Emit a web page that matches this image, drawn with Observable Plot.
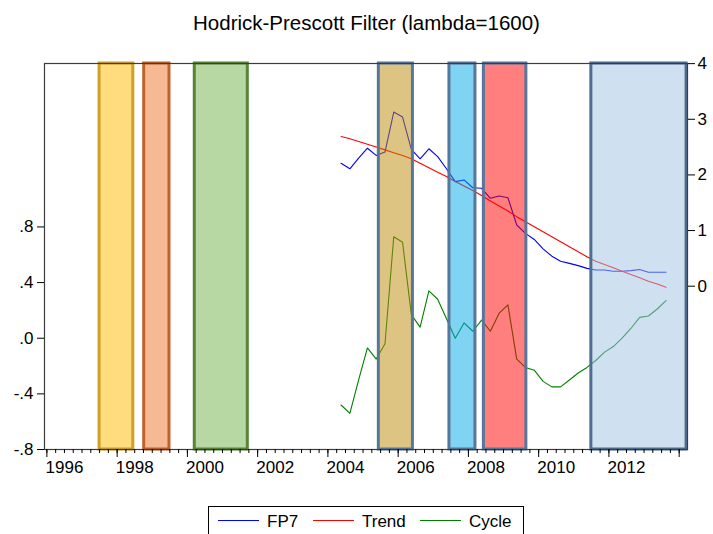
<!DOCTYPE html>
<html>
<head>
<meta charset="utf-8">
<script src="https://cdn.jsdelivr.net/npm/d3@7"></script>
<script src="https://cdn.jsdelivr.net/npm/@observablehq/plot@0.6"></script>
<style>
  body { margin: 0; background: #fff; font-family: "Liberation Sans", Arial, sans-serif; }
  #wrap { position: relative; width: 713px; height: 534px; overflow: hidden; background: #fff; }
  #title { height: 42px; padding-left: 20px; text-align: center; font-size: 20.5px; line-height: 45px; color: #000; }
  #chart svg { display: block; }
  #legend { position: absolute; left: 0; top: 0; }
</style>
</head>
<body>
<div id="wrap">
  <div id="title">Hodrick-Prescott Filter (lambda=1600)</div>
  <div id="chart"></div>
  <svg id="legend" width="713" height="534"></svg>
</div>
<script>
// Quarterly observations
const quarters = [
  "2004Q2","2004Q3","2004Q4",
  "2005Q1","2005Q2","2005Q3","2005Q4",
  "2006Q1","2006Q2","2006Q3","2006Q4",
  "2007Q1","2007Q2","2007Q3","2007Q4",
  "2008Q1","2008Q2","2008Q3","2008Q4",
  "2009Q1","2009Q2","2009Q3","2009Q4",
  "2010Q1","2010Q2","2010Q3","2010Q4",
  "2011Q1","2011Q2","2011Q3","2011Q4",
  "2012Q1","2012Q2","2012Q3","2012Q4",
  "2013Q1","2013Q2","2013Q3"
];

// FP7 and its HP trend (right axis units)
const fp7 = [
  2.21, 2.11, 2.30,
  2.48, 2.35, 2.41, 3.13,
  3.04, 2.46, 2.29, 2.47,
  2.33, 2.11, 1.88, 1.91,
  1.77, 1.76, 1.58, 1.62,
  1.59, 1.10, 0.95, 0.84,
  0.67, 0.54, 0.45, 0.41,
  0.37, 0.32, 0.29, 0.29,
  0.27, 0.27, 0.28, 0.30,
  0.25, 0.25, 0.25
];
const trend = [
  2.69, 2.65, 2.60,
  2.55, 2.50, 2.45, 2.40,
  2.35, 2.29, 2.21, 2.13,
  2.05, 1.97, 1.88, 1.80,
  1.72, 1.63, 1.53, 1.44,
  1.35, 1.25, 1.16, 1.07,
  0.98, 0.89, 0.80, 0.71,
  0.62, 0.53, 0.45, 0.39,
  0.33, 0.27, 0.21, 0.15,
  0.09, 0.04, -0.02
];
// Cycle component (left axis units)
const cycle = [
  -0.48, -0.54, -0.30,
  -0.07, -0.15, -0.04, 0.73,
  0.69, 0.17, 0.08, 0.34,
  0.28, 0.14, 0.00, 0.11,
  0.05, 0.13, 0.05, 0.18,
  0.24, -0.15, -0.21, -0.23,
  -0.31, -0.35, -0.35, -0.30,
  -0.25, -0.21, -0.16, -0.10,
  -0.06, 0.00, 0.07, 0.15,
  0.16, 0.21, 0.27
];

// Shaded periods (decimal years), with fill and border colours
const bandStart = [1997.50, 1998.77, 2000.21, 2005.45, 2007.46, 2008.44, 2011.50];
const bandEnd   = [1998.46, 1999.49, 2001.72, 2006.42, 2008.20, 2009.65, 2014.21];
const bandFill  = ["#FFBB00", "#EB7529", "#6FAF47", "#BD8907", "#00A7E7", "#FF0000", "#9FC1E1"];
const bandEdge  = ["#CFA024", "#BF622B", "#578436", "#56779C", "#56779C", "#56779C", "#4E6D90"];

// Axis ticks
const leftTicks = [-0.8, -0.4, 0, 0.4, 0.8];
const rightTicks = [0, 1, 2, 3, 4];
const labelYears = [1996, 1998, 2000, 2002, 2004, 2006, 2008, 2010, 2012];

// Legend entries
const seriesNames = ["FP7", "Trend", "Cycle"];
const seriesColors = ["#0000FF", "#FF0000", "#008000"];

// Right-axis values expressed in left-axis units
const rightZero = 0.374, rightUnit = 0.4;
const toLeft = v => rightZero + rightUnit * v;

const qTime = q => +q.slice(0, 4) + (+q.slice(5) - 1) / 4 + 0.125;
const rows = quarters.map((q, i) => ({t: qTime(q), fp7: fp7[i], trend: trend[i], cycle: cycle[i]}));
const bands = bandStart.map((s, i) => ({start: s, end: bandEnd[i], fill: bandFill[i], edge: bandEdge[i]}));

const quarterTicks = d3.range(1996, 2014.25, 0.25);
const evenYearTicks = d3.range(1996, 2015, 2);

const fmtLeft = d => d3.format(".1f")(d).replace("\u2212", "-").replace("0.", ".");

const chart = Plot.plot({
  width: 713,
  height: 465,
  marginLeft: 44,
  marginRight: 26,
  marginTop: 21,
  marginBottom: 58,
  style: {fontFamily: "'Liberation Sans', Arial, sans-serif", fontSize: "17px", color: "#000", background: "#fff"},
  x: {domain: [1995.932, 2014.237]},
  y: {domain: [-0.8, 1.975]},
  color: {type: "identity"},
  marks: [
    Plot.lineY(rows, {x: "t", y: d => toLeft(d.fp7), stroke: seriesColors[0], strokeWidth: 1.1}),
    Plot.lineY(rows, {x: "t", y: d => toLeft(d.trend), stroke: seriesColors[1], strokeWidth: 1.1}),
    Plot.lineY(rows, {x: "t", y: "cycle", stroke: seriesColors[2], strokeWidth: 1.1}),
    Plot.rect(bands, {x1: "start", x2: "end", fill: "fill", fillOpacity: 0.5, stroke: "edge", strokeWidth: 3}),
    Plot.frame({stroke: "#3c3c3c", strokeWidth: 1.2}),
    Plot.axisY(leftTicks, {anchor: "left", tickSize: 7, tickPadding: 4, tickFormat: fmtLeft, label: null}),
    Plot.axisY(rightTicks.map(toLeft), {anchor: "right", tickSize: 7, tickPadding: 3,
      tickFormat: d => String(Math.round((d - rightZero) / rightUnit)), label: null}),
    Plot.axisX(quarterTicks, {anchor: "bottom", tickSize: 4, tickFormat: () => "", label: null}),
    Plot.axisX(evenYearTicks, {anchor: "bottom", tickSize: 8, tickFormat: () => "", label: null}),
    Plot.axisX(labelYears.map(y => y + 0.5), {anchor: "bottom", tickSize: 0, tickPadding: 11,
      tickFormat: d => String(Math.floor(d)), label: null})
  ]
});
document.getElementById("chart").appendChild(chart);

// Legend box under the chart
const lg = d3.select("#legend");
lg.append("rect")
  .attr("x", 208.5).attr("y", 506.5).attr("width", 315).attr("height", 40)
  .attr("fill", "#fff").attr("stroke", "#000").attr("stroke-width", 1);
const itemX = [218, 313, 420];
seriesNames.forEach((name, i) => {
  lg.append("line")
    .attr("x1", itemX[i]).attr("x2", itemX[i] + 41)
    .attr("y1", 520.5).attr("y2", 520.5)
    .attr("stroke", seriesColors[i]).attr("stroke-width", 1);
  lg.append("text")
    .attr("x", itemX[i] + 49).attr("y", 526.5)
    .attr("font-family", "'Liberation Sans', Arial, sans-serif")
    .attr("font-size", 17).attr("fill", "#000")
    .text(name);
});
</script>
</body>
</html>
